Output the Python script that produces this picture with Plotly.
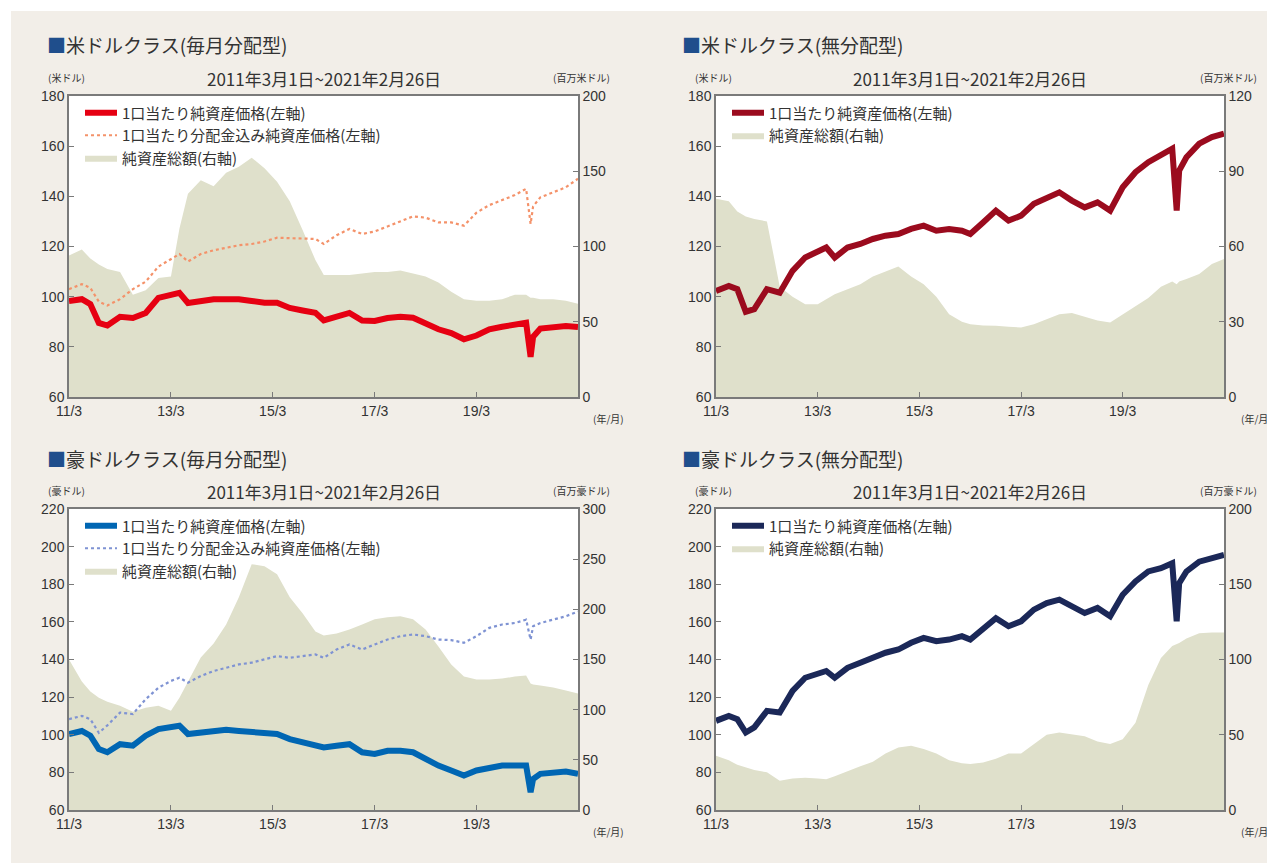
import plotly.graph_objects as go

# The page body adds an 8px margin, so the figure is drawn 8px smaller and all
# layout positions below are given in page pixels and shifted by OFF.
PAGE_W, PAGE_H = 1275, 863
OFF = 8
W, H = PAGE_W - OFF, PAGE_H - OFF

# ---------------- data ----------------
DATES = ["2011-03-01", "2011-06-01", "2011-08-01", "2011-10-01", "2011-12-01",
         "2012-03-01", "2012-06-01", "2012-09-01", "2012-12-01",
         "2013-03-01", "2013-05-01", "2013-07-01", "2013-10-01",
         "2014-01-01", "2014-04-01", "2014-07-01", "2014-10-01",
         "2015-01-01", "2015-04-01", "2015-07-01", "2015-10-01",
         "2016-01-01", "2016-03-01", "2016-06-01", "2016-09-01", "2016-12-01",
         "2017-03-01", "2017-06-01", "2017-09-01", "2017-12-01",
         "2018-03-01", "2018-06-01", "2018-09-01", "2018-12-01",
         "2019-03-01", "2019-06-01", "2019-09-01", "2019-12-01",
         "2020-02-20", "2020-03-23", "2020-04-10", "2020-06-01", "2020-09-01", "2020-12-01",
         "2021-02-26"]

# 米ドルクラス(毎月分配型)
usd_m_nav = [98.3, 99, 97, 89.5, 88.5,
             92, 91.5, 93.5, 99.5,
             101, 101.5, 97.5, 98.3,
             99, 99, 99, 98.3,
             97.6, 97.6, 95.5, 94.5,
             93.6, 90.5, 92, 93.5, 90.5,
             90.3, 91.5, 92, 91.6,
             89, 87, 85.5, 83,
             84.5, 87, 88, 88.8,
             89.6, 76, 84, 87.3, 87.6, 88.3,
             87.9]
usd_m_nav_div = [103, 105, 103.5, 98, 96.5,
                 99, 103, 106, 112,
                 115, 117, 114, 117,
                 118.5, 119.6, 120.5, 121,
                 122, 123.5, 123.3, 123,
                 123, 121, 124.5, 127, 125,
                 126, 128, 130, 132,
                 131.5, 129.6, 129.6, 128.3,
                 133.5, 136.5, 138.5, 140.5,
                 143, 129, 136, 139.6, 141.6, 143.6,
                 147]
usd_m_aum = [94, 98, 92, 88, 85,
             83, 68, 71, 79,
             80, 112, 135, 144,
             140, 149, 153, 159,
             152, 143, 130, 111,
             91, 81, 81, 81, 82,
             83, 83, 84, 82,
             80, 76, 70, 65,
             64, 64, 65, 68,
             68, 66, 66, 65, 65, 64,
             62]

# 米ドルクラス(無分配型)
usd_a_nav = [102.3, 104.3, 103, 94, 95,
             103, 101.6, 110.3, 115.6,
             118.3, 119.6, 115.6, 119.6,
             121, 123, 124.3, 125,
             127, 128.3, 126.3, 127,
             126.3, 125, 129.6, 134.3, 130.3,
             132.3, 137, 139.6, 141.6,
             138.3, 135.6, 137.6, 134.3,
             143.6, 149.6, 153.6, 156.3,
             159, 134.3, 150.3, 155.6, 161, 163.6,
             165]
usd_a_aum = [79, 78, 74, 72, 71,
             70, 44, 40, 37,
             37, 39, 41, 43,
             45, 48, 50, 52,
             48, 45, 40, 33,
             30, 29, 28.5, 28.4, 28,
             27.7, 29, 31, 33,
             33.5, 32, 30.5, 29.7,
             33, 36.4, 39.5, 44,
             46, 45, 46, 47, 49, 53,
             55]

# 豪ドルクラス(毎月分配型)
aud_m_nav = [100.4, 102, 99.5, 92.4, 90.7,
             95, 94.2, 99.5, 103,
             103.9, 104.8, 100.4, 101.2,
             102, 102.6, 102, 101.2,
             100.9, 100.4, 97.7, 95.9,
             94.2, 93.3, 94.2, 95, 90.7,
             89.8, 91.5, 91.5, 90.7,
             87.1, 83.6, 81, 78.3,
             81, 82.7, 83.6, 83.6,
             83.6, 69.5, 76.5, 79.2, 80.1, 80.4,
             79.2]
aud_m_nav_div = [108.3, 110, 108.3, 101, 105,
                 111.8, 111, 118.9, 125,
                 128.6, 130.3, 127.7, 131.2,
                 133.9, 135.6, 137.4, 138.3,
                 140, 141.8, 140.9, 141.8,
                 142.7, 140.9, 145.3, 148, 145.3,
                 148, 150.6, 152.4, 153.3,
                 152.4, 150.6, 150.3, 148.9,
                 152.4, 156.8, 158.6, 159.4,
                 161.2, 150.6, 157.7, 159.4, 161.2, 163,
                 165.5]
aud_m_aum = [150, 128, 118, 112, 108,
             104, 98, 102, 104,
             99, 112, 128, 152,
             166, 185, 212, 245,
             243, 235, 212, 196,
             178, 174, 176, 180, 185,
             190, 192, 193, 190,
             180, 163, 145, 133,
             130, 130, 131, 133,
             134, 126, 125, 124, 122, 119,
             116]

# 豪ドルクラス(無分配型)
aud_a_nav = [107.4, 110, 108.3, 101.2, 103.9,
             112.7, 111.8, 123.3, 130.3,
             132.1, 133.9, 130.3, 135.6,
             138.3, 140.9, 143.6, 145.3,
             148.9, 151.5, 149.7, 150.6,
             152.4, 150.6, 156.8, 162, 157.7,
             160.3, 166.5, 170, 171.8,
             168.3, 164.7, 167.4, 163,
             174.4, 181.5, 186.8, 188.5,
             191.2, 160.3, 180.6, 186.8, 192, 193.8,
             195.6]
aud_a_aum = [36, 33, 30, 28, 26.5,
             25, 19.5, 21, 21.5,
             21, 20.5, 22.5, 25.5,
             29, 32, 37.5, 41.5,
             42.7, 40.5, 37.5, 33,
             31, 30.5, 31.5, 34, 37.5,
             37.5, 44, 50, 51.5,
             50.5, 49, 45.5, 43.8,
             47, 58, 83, 101,
             109, 110, 111, 114, 117.5, 118,
             118]

TICK_DATES = ["2011-03-01", "2013-03-01", "2015-03-01", "2017-03-01", "2019-03-01"]
TICK_TEXT = ["11/3", "13/3", "15/3", "17/3", "19/3"]
X_RANGE = ["2011-03-01", "2021-02-26"]

TITLES = ["米ドルクラス(毎月分配型)", "米ドルクラス(無分配型)",
          "豪ドルクラス(毎月分配型)", "豪ドルクラス(無分配型)"]
PERIOD = "2011年3月1日~2021年2月26日"
UNIT_L = ["(米ドル)", "(米ドル)", "(豪ドル)", "(豪ドル)"]
UNIT_R = ["(百万米ドル)", "(百万米ドル)", "(百万豪ドル)", "(百万豪ドル)"]
NAME_NAV = "1口当たり純資産価格(左軸)"
NAME_DIV = "1口当たり分配金込み純資産価格(左軸)"
NAME_AUM = "純資産総額(右軸)"

# ---------------- styling ----------------
BG = "#f2eee8"
AREA = "#dfe0cb"
FRAME = "#7a7a7a"
TXT = "#333333"
CJK = "Noto Sans CJK JP"
NUM = "Liberation Sans, Arial, sans-serif"

panels = [
    dict(nav=usd_m_nav, div=usd_m_nav_div, aum=usd_m_aum, lcol="#e60012", dcol="#f4926a",
         lrange=[60, 180], ldt=20, rrange=[0, 200], rdt=50, px=(69, 578), py=(96, 397)),
    dict(nav=usd_a_nav, div=None, aum=usd_a_aum, lcol="#9b0b1e", dcol=None,
         lrange=[60, 180], ldt=20, rrange=[0, 120], rdt=30, px=(716, 1224), py=(96, 397)),
    dict(nav=aud_m_nav, div=aud_m_nav_div, aum=aud_m_aum, lcol="#0066b3", dcol="#7f93d3",
         lrange=[60, 220], ldt=20, rrange=[0, 300], rdt=50, px=(69, 578), py=(509, 810)),
    dict(nav=aud_a_nav, div=None, aum=aud_a_aum, lcol="#1b2858", dcol=None,
         lrange=[60, 220], ldt=20, rrange=[0, 200], rdt=50, px=(716, 1224), py=(509, 810)),
]


def fx(p):
    return (p - OFF) / W


def fy(p):
    return 1 - (p - OFF) / H


fig = go.Figure()
layout = dict(width=W, height=H, template="none",
              margin=dict(l=0, r=0, t=0, b=0, pad=0, autoexpand=False),
              paper_bgcolor=BG, plot_bgcolor="white", showlegend=True)
annotations = []
shapes = [dict(type="rect", xref="paper", yref="paper", x0=0, x1=1, y0=fy(11), y1=1,
               fillcolor="white", line=dict(width=0), layer="below"),
          dict(type="rect", xref="paper", yref="paper", x0=0, x1=fx(11), y0=0, y1=1,
               fillcolor="white", line=dict(width=0), layer="below")]

for i, p in enumerate(panels, start=1):
    xa = f"x{i}"
    yb = f"y{2 * i - 1}"   # right axis (area) - base
    yo = f"y{2 * i}"       # left axis (lines) - overlay
    leg = "legend" if i == 1 else f"legend{i}"

    fig.add_trace(go.Scatter(x=DATES, y=p["aum"], xaxis=xa, yaxis=yb, mode="lines",
                             fill="tozeroy", fillcolor=AREA, line=dict(width=0, color=AREA),
                             name=NAME_AUM, legend=leg, legendrank=3, hoverinfo="skip"))
    if p["div"] is not None:
        fig.add_trace(go.Scatter(x=DATES, y=p["div"], xaxis=xa, yaxis=yo, mode="lines",
                                 line=dict(color=p["dcol"], width=2.2, dash="dot"),
                                 name=NAME_DIV, legend=leg, legendrank=2))
    fig.add_trace(go.Scatter(x=DATES, y=p["nav"], xaxis=xa, yaxis=yo, mode="lines",
                             line=dict(color=p["lcol"], width=6),
                             name=NAME_NAV, legend=leg, legendrank=1))

    x0, x1 = p["px"]
    y0, y1 = p["py"]
    xdom = [fx(x0), fx(x1)]
    ydom = [fy(y1), fy(y0)]
    xkey = "xaxis" if i == 1 else f"xaxis{i}"
    ybkey = f"yaxis{2 * i - 1}" if i > 1 else "yaxis"
    yokey = f"yaxis{2 * i}"
    ax_common = dict(showgrid=False, zeroline=False, showline=True, linecolor=FRAME,
                     linewidth=1.5, ticks="inside", ticklen=5, tickcolor=FRAME,
                     automargin=False,
                     tickfont=dict(family=NUM, size=14, color=TXT))
    layout[xkey] = dict(domain=xdom, anchor=yb, type="date", range=X_RANGE,
                        tickvals=TICK_DATES, ticktext=TICK_TEXT, mirror=True,
                        **ax_common)
    layout[ybkey] = dict(domain=ydom, anchor=xa, side="right", range=p["rrange"],
                         dtick=p["rdt"], tick0=0, **ax_common)
    layout[yokey] = dict(overlaying=yb, anchor=xa, side="left", range=p["lrange"],
                         dtick=p["ldt"], tick0=60, **ax_common)
    layout[leg] = dict(x=fx(x0 + 11), y=fy(y0 + 0.5), xanchor="left", yanchor="top",
                       bgcolor="rgba(0,0,0,0)", itemwidth=32, tracegroupgap=0,
                       font=dict(family=CJK, size=15, color=TXT), traceorder="normal")

    # texts
    right_panel = x0 > 600
    tx = 680 if right_panel else 45
    annotations.append(dict(text=f'<span style="color:#1f4e8c">■</span>{TITLES[i - 1]}',
                            x=fx(tx), y=fy(y0 - 51), xref="paper", yref="paper",
                            xanchor="left", yanchor="middle", showarrow=False,
                            font=dict(family=CJK, size=19, color=TXT)))
    annotations.append(dict(text=PERIOD, x=fx((x0 + x1) / 2), y=fy(y0 - 17),
                            xref="paper", yref="paper", xanchor="center", yanchor="middle",
                            showarrow=False, font=dict(family=CJK, size=17, color=TXT)))
    annotations.append(dict(text=UNIT_L[i - 1], x=fx(x0 - 3), y=fy(y0 - 19),
                            xref="paper", yref="paper", xanchor="center", yanchor="middle",
                            showarrow=False, font=dict(family=CJK, size=10, color=TXT)))
    ur_x = x1 + 4 if right_panel else x1 + 3
    annotations.append(dict(text=UNIT_R[i - 1], x=fx(ur_x), y=fy(y0 - 19),
                            xref="paper", yref="paper", xanchor="center", yanchor="middle",
                            showarrow=False, font=dict(family=CJK, size=10, color=TXT)))
    if right_panel:
        ym_x, ym_anchor = 1274, "right"
    else:
        ym_x, ym_anchor = x1 + 30, "center"
    annotations.append(dict(text="(年/月)", x=fx(ym_x), y=fy(y1 + 21),
                            xref="paper", yref="paper", xanchor=ym_anchor, yanchor="middle",
                            showarrow=False, font=dict(family=CJK, size=10, color=TXT)))

layout["annotations"] = annotations
layout["shapes"] = shapes
fig.update_layout(**layout)
fig.write_html("out.html")
